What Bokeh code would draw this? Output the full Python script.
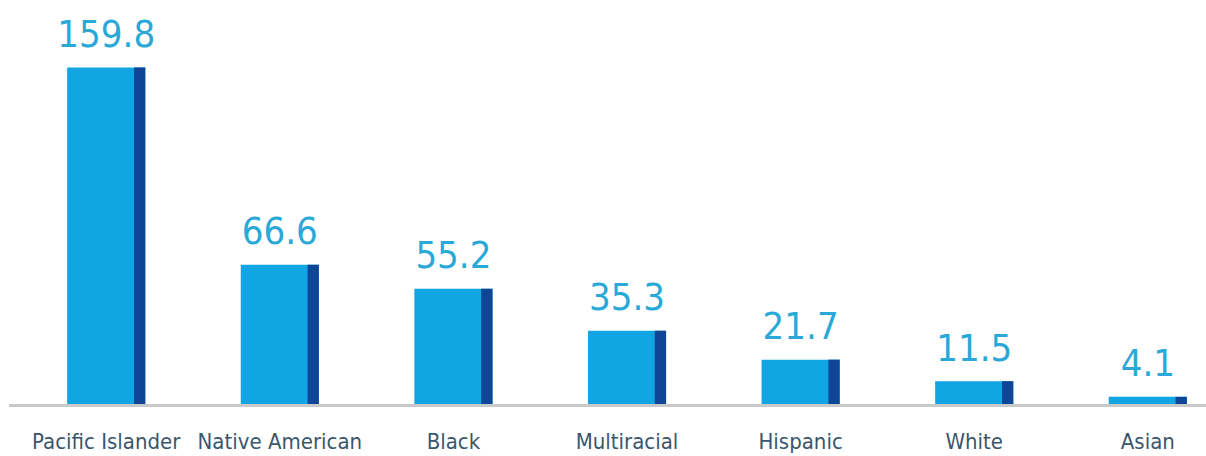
from bokeh.plotting import figure
from bokeh.models import Range1d, ColumnDataSource
from bokeh.core.properties import value
from bokeh.embed import file_html
from bokeh.resources import INLINE

categories = ["Pacific Islander", "Native American", "Black", "Multiracial", "Hispanic", "White", "Asian"]
values = [159.8, 66.6, 55.2, 35.3, 21.7, 11.5, 4.1]
value_labels = ["159.8", "66.6", "55.2", "35.3", "21.7", "11.5", "4.1"]

idx = list(range(len(categories)))
bar_w = 0.45
side_w = 0.065

src = ColumnDataSource(dict(
    x=idx,
    top=values,
    lbl=value_labels,
    cat=categories,
    side_x=[i + bar_w / 2 - side_w / 2 for i in idx],
    cat_y=[0] * len(idx),
))

p = figure(width=1206, height=456, output_backend="svg", toolbar_location=None,
           x_range=Range1d(-0.609, 6.338), y_range=Range1d(-24.1, 191.5),
           min_border=0, min_border_left=0, min_border_right=0,
           min_border_top=0, min_border_bottom=0)
p.axis.visible = False
p.grid.visible = False
p.outline_line_color = None
p.background_fill_color = "white"
p.border_fill_color = "white"

p.vbar(x="x", top="top", bottom=0, width=bar_w, source=src,
       fill_color="#12a5e3", line_color=None)
p.vbar(x="side_x", top="top", bottom=0, width=side_w, source=src,
       fill_color="#0f4596", line_color=None)

p.line(x=[-0.56, 6.4], y=[0, 0], line_color="#c9c9c9", line_width=3)

p.text(x="x", y="top", text="lbl", source=src, text_align="center",
       text_baseline="middle", y_offset=-34,
       text_font=value("DejaVu Sans Condensed"), text_font_size="38px",
       text_color="#2aa9d9")

p.text(x="x", y="cat_y", text="cat", source=src, text_align="center",
       text_baseline="middle", y_offset=36,
       text_font=value("DejaVu Sans Condensed"), text_font_size="22px",
       text_color="#3b566b")

open("out.html", "w").write(file_html(p, INLINE))
